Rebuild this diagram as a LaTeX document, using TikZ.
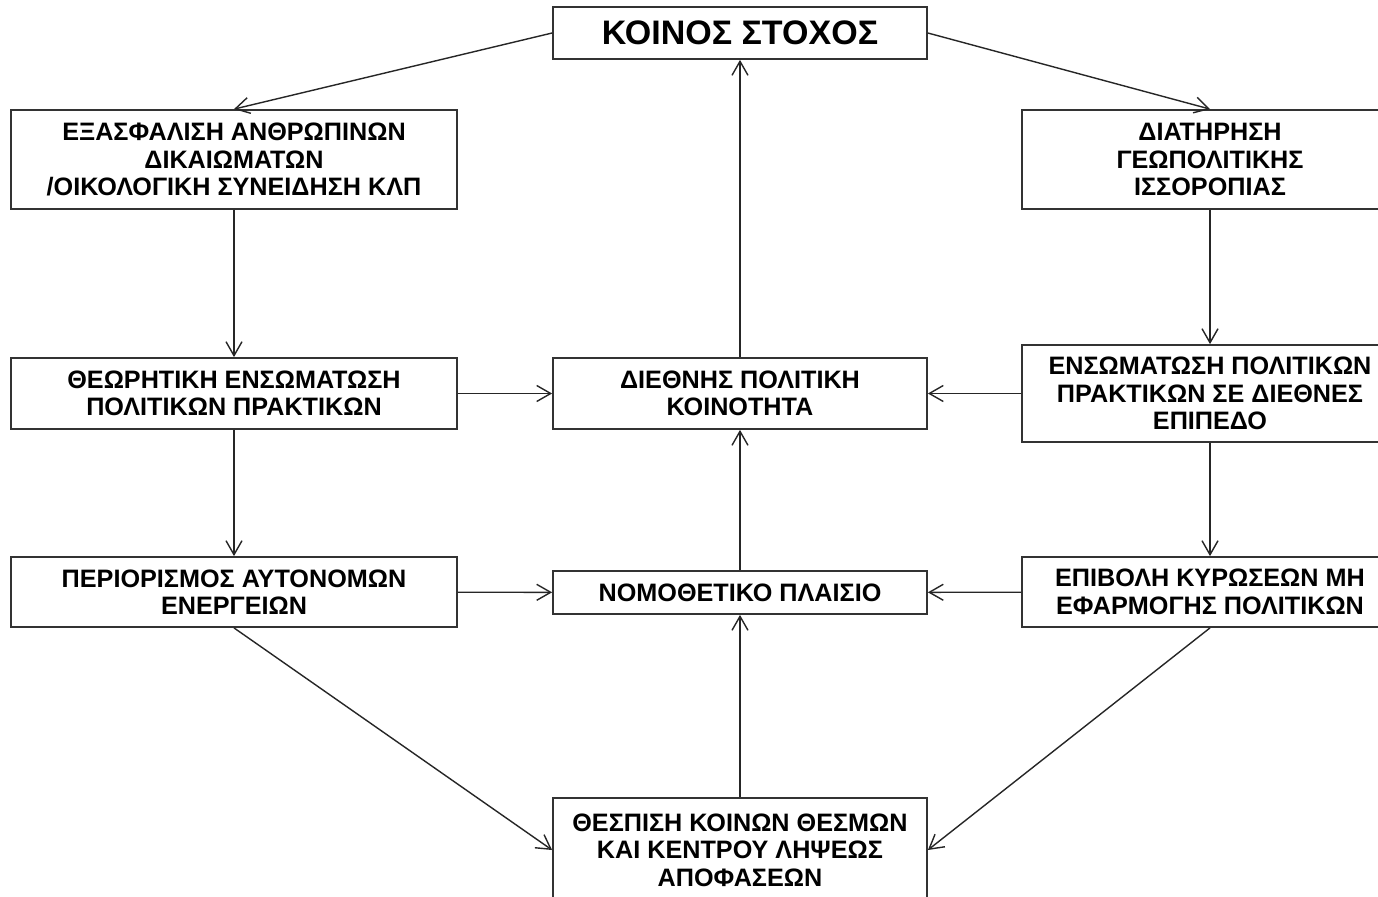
\documentclass[tikz,border=0pt]{standalone}
\usepackage{fontspec}
\setmainfont{Liberation Sans}
\usetikzlibrary{arrows.meta}

\begin{document}
\begin{tikzpicture}[x = 0.5pt, y = -0.5pt,
        box/.style = {draw = black!80, line width = 0.9pt, align = center, inner sep = 2pt,
            font = \bfseries\fontsize{12.6}{13.75}\selectfont},
        link/.style = {-{Straight Barb[length = 7pt, width = 8pt]}, line width = 0.7pt, draw = black!85}]
        \fill [white] (0, 0) rectangle (1378, 896);
        \useasboundingbox (0, 0) rectangle (1378, 896);
        % top
        \node [box, minimum width = 187pt, minimum height = 26pt,
            font = \bfseries\fontsize{17}{20}\selectfont] (goal) at (740, 33) {ΚΟΙΝΟΣ ΣΤΟΧΟΣ};
        % first row
        \node [box, minimum width = 223pt, minimum height = 49.5pt] (rights) at (234, 159.5)
            {ΕΞΑΣΦΑΛΙΣΗ ΑΝΘΡΩΠΙΝΩΝ\\ΔΙΚΑΙΩΜΑΤΩΝ\\/ΟΙΚΟΛΟΓΙΚΗ ΣΥΝΕΙΔΗΣΗ ΚΛΠ};
        \node [box, minimum width = 188pt, minimum height = 49.5pt] (balance) at (1210, 159.5)
            {ΔΙΑΤΗΡΗΣΗ\\ΓΕΩΠΟΛΙΤΙΚΗΣ\\ΙΣΣΟΡΟΠΙΑΣ};
        % second row
        \node [box, minimum width = 223pt, minimum height = 35.5pt] (theory) at (234, 393.5)
            {ΘΕΩΡΗΤΙΚΗ ΕΝΣΩΜΑΤΩΣΗ\\ΠΟΛΙΤΙΚΩΝ ΠΡΑΚΤΙΚΩΝ};
        \node [box, minimum width = 187pt, minimum height = 35.5pt] (community) at (740, 393.5)
            {ΔΙΕΘΝΗΣ ΠΟΛΙΤΙΚΗ\\ΚΟΙΝΟΤΗΤΑ};
        \node [box, minimum width = 188pt, minimum height = 48.5pt] (integr) at (1210, 393.5)
            {ΕΝΣΩΜΑΤΩΣΗ ΠΟΛΙΤΙΚΩΝ\\ΠΡΑΚΤΙΚΩΝ ΣΕ ΔΙΕΘΝΕΣ\\ΕΠΙΠΕΔΟ};
        % third row
        \node [box, minimum width = 223pt, minimum height = 35pt] (limit) at (234, 592)
            {ΠΕΡΙΟΡΙΣΜΟΣ ΑΥΤΟΝΟΜΩΝ\\ΕΝΕΡΓΕΙΩΝ};
        \node [box, minimum width = 187pt, minimum height = 21.5pt] (legal) at (740, 592.5)
            {ΝΟΜΟΘΕΤΙΚΟ ΠΛΑΙΣΙΟ};
        \node [box, minimum width = 188pt, minimum height = 35pt] (sanctions) at (1210, 592)
            {ΕΠΙΒΟΛΗ ΚΥΡΩΣΕΩΝ ΜΗ\\ΕΦΑΡΜΟΓΗΣ ΠΟΛΙΤΙΚΩΝ};
        % bottom
        \node [box, minimum width = 187pt, minimum height = 52pt] (institutions) at (740, 850)
            {ΘΕΣΠΙΣΗ ΚΟΙΝΩΝ ΘΕΣΜΩΝ\\ΚΑΙ ΚΕΝΤΡΟΥ ΛΗΨΕΩΣ\\ΑΠΟΦΑΣΕΩΝ};

        \draw [link] (goal.west) -- (rights.north);
        \draw [link] (goal.east) -- (balance.north);
        \draw [link] (rights) -- (theory);
        \draw [link] (theory) -- (limit);
        \draw [link] (balance) -- (integr);
        \draw [link] (integr) -- (sanctions);
        \draw [link] (theory) -- (community);
        \draw [link] (integr) -- (community);
        \draw [link] (limit) -- (legal);
        \draw [link] (sanctions) -- (legal);
        \draw [link] (community) -- (goal);
        \draw [link] (legal) -- (community);
        \draw [link] (institutions) -- (legal);
        \draw [link] (limit.south) -- (institutions.west);
        \draw [link] (sanctions.south) -- (institutions.east);
    \end{tikzpicture}
\end{document}
